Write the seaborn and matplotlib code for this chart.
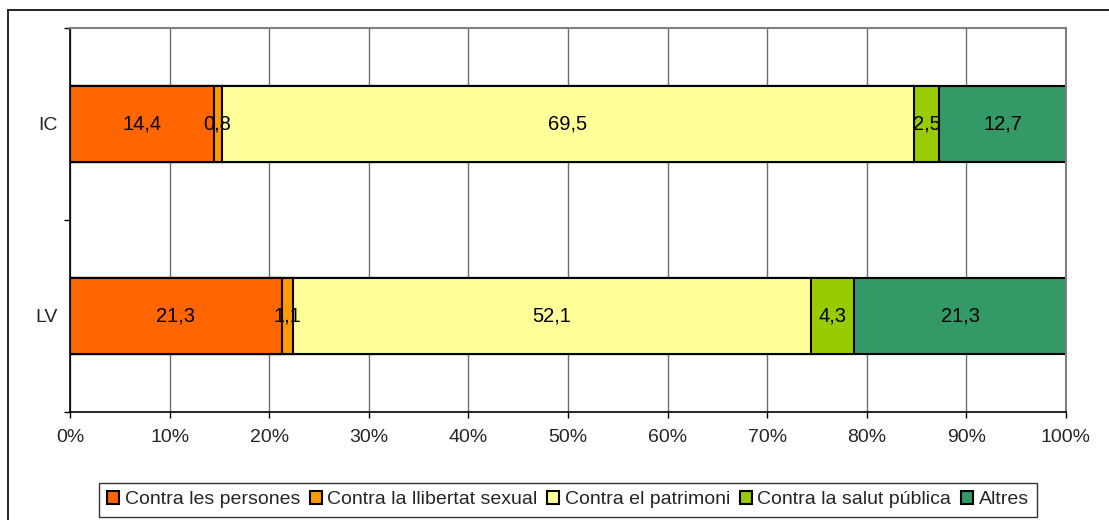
import numpy as np
import pandas as pd
import seaborn as sns
import matplotlib.pyplot as plt
from matplotlib.ticker import FixedLocator, PercentFormatter
from matplotlib.lines import Line2D

# data
groups = ['IC', 'LV']
categories = ['Contra les persones', 'Contra la llibertat sexual',
              'Contra el patrimoni', 'Contra la salut pública', 'Altres']
ic_values = [14.4, 0.8, 69.5, 2.5, 12.7]
lv_values = [21.3, 1.1, 52.1, 4.3, 21.3]
colors = ['#FF6600', '#FF9900', '#FFFF99', '#99CC00', '#339966']

sns.set_style('white')
plt.rcParams['font.family'] = ['Liberation Sans', 'DejaVu Sans']

# build long table with cumulative percentages (100% stacked)
rows = []
for g, vals in zip(groups, [ic_values, lv_values]):
    vals = np.array(vals)
    pct = vals / vals.sum() * 100
    cum = np.cumsum(pct)
    for c, v, p, cm in zip(categories, vals, pct, cum):
        rows.append({'group': g, 'category': c, 'value': v, 'pct': p, 'cum': cm})
df = pd.DataFrame(rows)

fig = plt.figure(figsize=(11.09, 5.20), dpi=100)
ax = fig.add_axes([70 / 1109, 1 - 412 / 520, (1066 - 70) / 1109, (412 - 28) / 520])

# grid behind bars
ax.set_axisbelow(True)
ax.xaxis.grid(True, color='#6e6e6e', linewidth=1)

# draw cumulative bars from the last category backwards so they overlap into a stack
for c, col in reversed(list(zip(categories, colors))):
    sub = df[df['category'] == c]
    sns.barplot(data=sub, x='cum', y='group', order=groups, color=col, saturation=1,
                edgecolor='black', linewidth=1.5, width=0.4, ax=ax, label=c)

# segment labels
for i, g in enumerate(groups):
    sub = df[df['group'] == g]
    for _, r in sub.iterrows():
        ax.text(r['cum'] - r['pct'] / 2, i, f"{r['value']:.1f}".replace('.', ','),
                ha='center', va='center', fontsize=14.5, color='black')

ax.set_xlim(0, 100)
ax.set_ylim(1.5, -0.5)
ax.xaxis.set_major_locator(FixedLocator(np.arange(0, 101, 10)))
ax.xaxis.set_major_formatter(PercentFormatter(decimals=0))
ax.yaxis.set_major_locator(FixedLocator([-0.5, 0.5, 1.5]))
ax.yaxis.set_minor_locator(FixedLocator([0, 1]))
ax.set_yticklabels([])
ax.set_yticklabels(groups, minor=True)
ax.tick_params(axis='y', which='major', length=4, width=1, color='black', left=True)
ax.tick_params(axis='y', which='minor', length=0, pad=9, labelsize=14)
ax.tick_params(axis='x', length=4, width=1, color='black', bottom=True, pad=8, labelsize=14)
ax.set_xlabel('')
ax.set_ylabel('')

for s in ['left', 'bottom']:
    ax.spines[s].set_color('black')
    ax.spines[s].set_linewidth(1.2)
for s in ['top', 'right']:
    ax.spines[s].set_color('#808080')
    ax.spines[s].set_linewidth(1.5)

# legend in category order
handles, labels = ax.get_legend_handles_labels()
order = [labels.index(c) for c in categories]
leg = ax.legend([handles[k] for k in order], categories, ncol=5,
                loc='center', bbox_to_anchor=(0.5, -0.229), bbox_transform=ax.transAxes,
                frameon=True, fancybox=False, edgecolor='black', fontsize=14,
                handlelength=0.6, handleheight=0.6, handletextpad=0.3,
                columnspacing=0.5, borderpad=0.45, borderaxespad=0)
leg.get_frame().set_linewidth(1)

# outer chart border (left and top visible)
fig.add_artist(Line2D([8 / 1109, 8 / 1109], [0, 1 - 10 / 520], color='black', linewidth=1.2,
                      transform=fig.transFigure))
fig.add_artist(Line2D([8 / 1109, 1], [1 - 10 / 520, 1 - 10 / 520], color='black', linewidth=1.2,
                      transform=fig.transFigure))

fig.savefig('out.png', dpi=100)
